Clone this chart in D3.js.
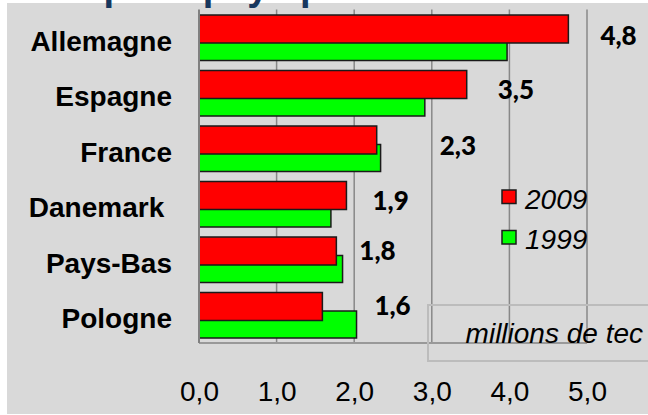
<!DOCTYPE html>
<html>
<head>
<meta charset="utf-8">
<script src="https://cdn.jsdelivr.net/npm/d3@7"></script>
<style>
  body { margin: 0; background: #fff; }
  svg { display: block; font-family: Arial, "Liberation Sans", sans-serif; }
</style>
</head>
<body>
<div id="chart"></div>
<script>
// data
var countries = ["Allemagne", "Espagne", "France", "Danemark", "Pays-Bas", "Pologne"];
var countryLabels = ["Allemagne", "Espagne", "France", "Danemark ", "Pays-Bas", "Pologne"];
var values2009 = [4.76, 3.45, 2.29, 1.90, 1.77, 1.59];
var values1999 = [3.97, 2.91, 2.34, 1.70, 1.85, 2.03];
var valueLabels = ["4,8", "3,5", "2,3", "1,9", "1,8", "1,6"];
var seriesNames = ["2009", "1999"];
var seriesColors = ["#ff0000", "#00ff00"];
var xTicks = [0, 1, 2, 3, 4, 5];
var titleText = "Principaux pays producteurs";
var unitText = "millions de tec";

var svgWidth = 648;
var svgHeight = 415;

var plot = { left: 199, right: 587, top: 10, bottom: 343 };

// the value labels were placed by hand in the source chart,
// so keep their nudges (from the end of the 2009 bar / top of the band)
var labelDx = [32, 31, 63, 26, 23, 52];
var labelDy = [35, 33, 34, 33.5, 27.5, 27.5];

var rows = countries.map(function(c, i) {
    return { name: c, label: countryLabels[i], v2009: values2009[i], v1999: values1999[i], text: valueLabels[i], i: i };
});

var svg = d3.select("#chart")
    .append("svg")
    .attr("width", svgWidth)
    .attr("height", svgHeight);

// grey background
svg.append("rect")
    .attr("x", 7)
    .attr("y", 3)
    .attr("width", svgWidth - 7)
    .attr("height", svgHeight - 4)
    .attr("fill", "#d9d9d9");

// title: only its descenders are left in the cropped picture
svg.append("text")
    .attr("x", -2)
    .attr("y", 0)
    .attr("fill", "#17375e")
    .attr("font-weight", "bold")
    .attr("font-size", 38)
    .text(titleText);

var x = d3.scaleLinear()
    .domain([0, 5])
    .range([plot.left, plot.right]);

var y = d3.scaleBand()
    .domain(countries)
    .range([plot.top, plot.bottom])
    .padding(0);

// top of each bar inside its band (bars overlap a little)
var ySub = d3.scalePoint()
    .domain(seriesNames)
    .range([5, 23.5]);
var barH = 27;

// gridlines
svg.append("g")
    .selectAll("line")
    .data(xTicks.slice(1))
    .enter()
    .append("line")
    .attr("x1", d => x(d))
    .attr("x2", d => x(d))
    .attr("y1", plot.top - 0.5)
    .attr("y2", plot.bottom)
    .attr("stroke", "#888")
    .attr("stroke-width", 1.5);

// bottom line
svg.append("line")
    .attr("x1", x(0))
    .attr("x2", x(5))
    .attr("y1", plot.bottom)
    .attr("y2", plot.bottom)
    .attr("stroke", "#999")
    .attr("stroke-width", 2);

// bars: 1999 first, 2009 on top
var green = svg.append("g")
    .selectAll("rect")
    .data(rows)
    .enter()
    .append("rect")
    .attr("x", x(0))
    .attr("y", d => y(d.name) + ySub("1999"))
    .attr("width", d => x(d.v1999) - x(0))
    .attr("height", barH)
    .attr("fill", seriesColors[1])
    .attr("stroke", "#1a1a1a")
    .attr("stroke-width", 1.5);

var red = svg.append("g")
    .selectAll("rect")
    .data(rows)
    .enter()
    .append("rect")
    .attr("x", x(0))
    .attr("y", d => y(d.name) + ySub("2009"))
    .attr("width", d => x(d.v2009) - x(0))
    .attr("height", barH + 1)
    .attr("fill", seriesColors[0])
    .attr("stroke", "#1a1a1a")
    .attr("stroke-width", 1.5);

// left axis line
svg.append("line")
    .attr("x1", x(0))
    .attr("x2", x(0))
    .attr("y1", plot.top - 0.5)
    .attr("y2", plot.bottom)
    .attr("stroke", "#808080")
    .attr("stroke-width", 2);

// category labels
var leftAxis = d3.axisLeft(y)
    .tickSize(0)
    .tickPadding(plot.left - 172)
    .tickFormat((d, i) => countryLabels[i]);

var gy = svg.append("g")
    .attr("transform", `translate(${plot.left},0)`)
    .call(leftAxis);
gy.select(".domain").remove();
gy.selectAll("text")
    .attr("dy", "0.46em")
    .attr("font-size", 28)
    .attr("font-weight", "bold")
    .attr("font-family", "Arial, 'Liberation Sans', sans-serif")
    .attr("fill", "#000")
    .style("white-space", "pre");

// x tick labels
var bottomAxis = d3.axisBottom(x)
    .tickValues(xTicks)
    .tickSize(0)
    .tickPadding(38)
    .tickFormat(d => d.toFixed(1).replace(".", ","));

var gx = svg.append("g")
    .attr("transform", `translate(0,${plot.bottom})`)
    .call(bottomAxis);
gx.select(".domain").remove();
gx.selectAll("text")
    .attr("font-size", 28)
    .attr("font-family", "Arial, 'Liberation Sans', sans-serif")
    .attr("fill", "#000");

// value labels
svg.append("g")
    .selectAll("text")
    .data(rows)
    .enter()
    .append("text")
    .attr("x", d => x(d.v2009) + labelDx[d.i])
    .attr("y", d => y(d.name) + labelDy[d.i])
    .attr("font-family", "Lato, 'Open Sans', sans-serif")
    .attr("font-weight", 900)
    .attr("font-size", 26)
    .attr("fill", "#000")
    .text(d => d.text);

// legend
var legend = svg.append("g")
    .attr("transform", "translate(502,190)");

var items = legend.selectAll("g")
    .data(seriesNames)
    .enter()
    .append("g")
    .attr("transform", (d, i) => `translate(0,${i * 40.5})`);

items.append("rect")
    .attr("width", 14)
    .attr("height", 13.5)
    .attr("fill", (d, i) => seriesColors[i])
    .attr("stroke", "#1a1a1a")
    .attr("stroke-width", 1.5);

items.append("text")
    .attr("x", 23)
    .attr("y", 18.5)
    .attr("font-size", 28)
    .attr("font-style", "italic")
    .attr("fill", "#000")
    .text(d => d);

// unit box
svg.append("rect")
    .attr("x", 428)
    .attr("y", 305)
    .attr("width", 240)
    .attr("height", 56)
    .attr("fill", "none")
    .attr("stroke", "#bcbcbc")
    .attr("stroke-width", 2);

svg.append("text")
    .attr("x", 643)
    .attr("y", 342.5)
    .attr("text-anchor", "end")
    .attr("font-size", 28)
    .attr("font-style", "italic")
    .attr("fill", "#000")
    .text(unitText);
</script>
</body>
</html>
